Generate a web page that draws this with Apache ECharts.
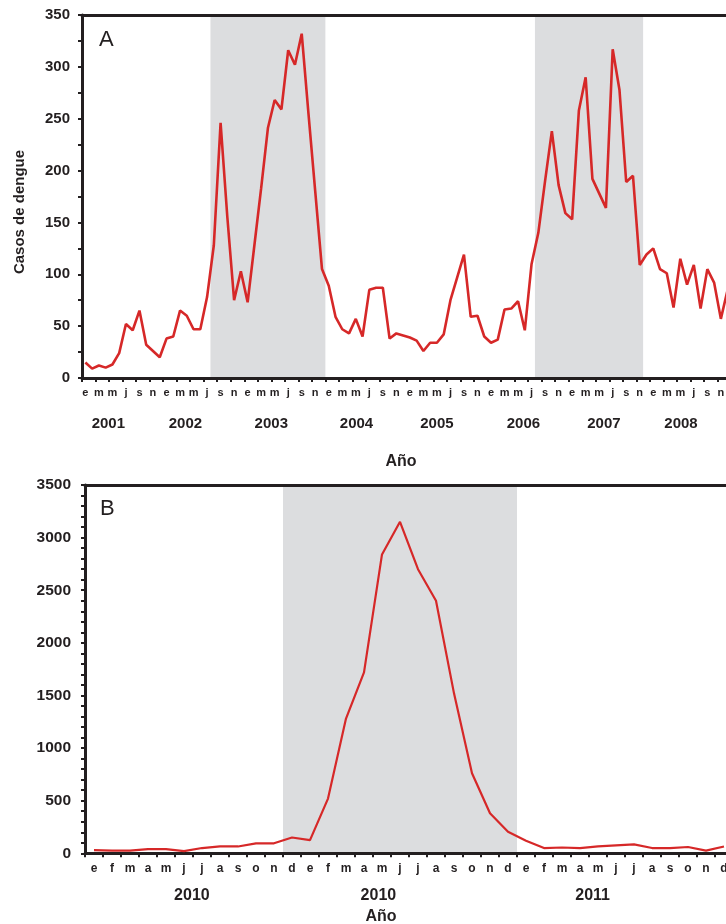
<!DOCTYPE html>
<html>
<head>
<meta charset="utf-8">
<script src="https://cdn.jsdelivr.net/npm/echarts@6/dist/echarts.min.js"></script>
<style>
html,body{margin:0;padding:0;background:#ffffff;}
#chart{width:726px;height:924px;}
</style>
</head>
<body>
<div id="chart"></div>
<script>
// ---------------- DATA ----------------
const monthInitials = ['e','f','m','a','m','j','j','a','s','o','n','d'];

// Panel A: monthly dengue cases, Jan 2001 - Dec 2008
const yearsA = ['2001','2002','2003','2004','2005','2006','2007','2008'];
const casesA = [
  15, 9, 12, 10, 13, 24, 52, 46, 65, 32, 26, 20,
  38, 40, 65, 60, 47, 47, 78, 128, 246, 155, 75, 103,
  73, 128, 183, 241, 268, 259, 316, 302, 332, 255, 180, 105,
  89, 59, 47, 43, 57, 40, 85, 87, 87, 38, 43, 41,
  39, 36, 26, 34, 34, 42, 75, 97, 119, 59, 60, 40,
  34, 37, 66, 67, 74, 46, 110, 140, 190, 238, 186, 159,
  153, 258, 290, 192, 178, 164, 317, 278, 189, 195, 109, 119,
  125, 105, 101, 68, 115, 90, 109, 67, 105, 92, 57, 85
];
// epidemic periods (inclusive month indices into casesA)
const epidemicA = [[19, 35], [67, 82]];
const yTicksA = {min: 0, max: 350, step: 50};

// Panel B: monthly dengue cases, three years (labels as printed)
const yearsB = ['2010','2010','2011'];
const casesB = [
  30, 25, 25, 40, 40, 20, 50, 65, 65, 95, 95, 150,
  125, 520, 1280, 1720, 2840, 3150, 2700, 2400, 1520, 760, 380, 205,
  120, 50, 55, 50, 65, 75, 85, 50, 50, 60, 25, 65
];
const epidemicB = [[11, 23]];
const yTicksB = {min: 0, max: 3500, step: 500};

// ---------------- BUILD ----------------
const catsA = casesA.map((_, i) => yearsA[Math.floor(i / 12)] + '-' + (i % 12 + 1));
const catsB = casesB.map((_, i) => 'b' + Math.floor(i / 12) + '-' + (i % 12 + 1));

// layout constants (label anchor positions, in month units)
const yearLabelPosA = [3.4, 14.8, 27.5, 40.1, 52.0, 64.8, 76.7, 88.1];
const yearLabelPosB = [5.44, 15.8, 27.7];

const INK = '#231f20';
const FONT = '"Liberation Sans", Arial, Helvetica, sans-serif';
const RED = '#d62828';
const GREY = '#dcdddf';

function monthAxis(gi, cats, labelInterval, tickInterval, fontSize, margin) {
  return {
    type: 'category', gridIndex: gi, data: cats, boundaryGap: true, position: 'bottom', z: 3,
    axisLine: {show: true, onZero: false, lineStyle: {color: INK, width: 3}},
    axisTick: {show: true, interval: tickInterval, length: 4, lineStyle: {color: INK, width: 2}},
    axisLabel: {
      show: true, interval: labelInterval, margin: margin,
      color: INK, fontFamily: FONT, fontWeight: 'bold', fontSize: fontSize,
      formatter: (v, idx) => monthInitials[idx % 12]
    },
    splitLine: {show: false}
  };
}
function yearAxis(gi, n, years, positions, fontSize, margin) {
  return {
    type: 'value', gridIndex: gi, min: -0.5, max: n - 0.5, position: 'bottom', z: 3,
    axisLine: {show: false, onZero: false}, axisTick: {show: false}, splitLine: {show: false},
    axisLabel: {
      show: true, customValues: positions, margin: margin,
      color: INK, fontFamily: FONT, fontWeight: 'bold', fontSize: fontSize,
      formatter: (v) => years[Math.floor((v + 0.5) / 12)] || ''
    }
  };
}
function topAxis(gi, cats) {
  return {
    type: 'category', gridIndex: gi, data: cats, position: 'top', z: 3,
    axisLine: {show: true, onZero: false, lineStyle: {color: INK, width: 3}},
    axisTick: {show: false}, axisLabel: {show: false}, splitLine: {show: false}
  };
}
function valueAxis(gi, t, fontSize, margin, minorSplit) {
  return {
    type: 'value', gridIndex: gi, min: t.min, max: t.max, interval: t.step, z: 3, position: 'left',
    axisLine: {show: true, onZero: false, lineStyle: {color: INK, width: 3}},
    axisTick: {show: true, length: 4, lineStyle: {color: INK, width: 2}},
    minorTick: {show: true, splitNumber: minorSplit, length: 4, lineStyle: {color: INK, width: 2}},
    splitLine: {show: false}, minorSplitLine: {show: false},
    axisLabel: {color: INK, fontFamily: FONT, fontWeight: 'bold', fontSize: fontSize, margin: margin,
                formatter: (v) => String(v)}
  };
}
function hiddenAxis(gi) {
  return {type: 'value', gridIndex: gi, min: 0, max: 1, show: false, position: 'right',
          axisLine: {onZero: false}};
}
// shaded epidemic periods: rectangles spanning whole month bands, via axis scales
function shadeSeries(xi, yi, periods) {
  return {
    type: 'custom', xAxisIndex: xi, yAxisIndex: yi, silent: true, z: 1,
    data: periods,
    encode: {x: [0, 1]},
    renderItem: (params, api) => {
      const band = api.size([1, 0])[0];
      const pTop = api.coord([api.value(0), 1]);
      const pBot = api.coord([api.value(1), 0]);
      const x0 = pTop[0] - band / 2;
      const x1 = pBot[0] + band / 2;
      return {type: 'rect', shape: {x: x0, y: pTop[1], width: x1 - x0, height: pBot[1] - pTop[1]},
              style: {fill: GREY}};
    }
  };
}

const option = {
  animation: false,
  backgroundColor: '#ffffff',
  grid: [
    {left: 82, top: 15, width: 649, height: 363, containLabel: false, outerBoundsMode: 'none'},
    {left: 85, top: 485, width: 648, height: 368.3, containLabel: false, outerBoundsMode: 'none'}
  ],
  xAxis: [
    monthAxis(0, catsA, 1, 1, 11, 9),
    yearAxis(0, casesA.length, yearsA, yearLabelPosA, 15, 38),
    topAxis(0, catsA),
    monthAxis(1, catsB, 0, 0, 12, 9),
    yearAxis(1, casesB.length, yearsB, yearLabelPosB, 16, 34),
    topAxis(1, catsB)
  ],
  yAxis: [
    valueAxis(0, yTicksA, 15, 12, 2),
    hiddenAxis(0),
    valueAxis(1, yTicksB, 15.5, 14, 5),
    hiddenAxis(1)
  ],
  series: [
    shadeSeries(0, 1, epidemicA),
    {type: 'line', xAxisIndex: 0, yAxisIndex: 0, data: casesA, showSymbol: false, symbol: 'none',
     lineStyle: {color: RED, width: 2.6}, z: 4},
    shadeSeries(3, 3, epidemicB),
    {type: 'line', xAxisIndex: 3, yAxisIndex: 2, data: casesB, showSymbol: false, symbol: 'none',
     lineStyle: {color: RED, width: 2.2}, z: 4}
  ],
  graphic: [
    {type: 'text', x: 99, y: 40, z: 10, style: {text: 'A', font: '22px ' + FONT, fill: INK, textVerticalAlign: 'middle', textAlign: 'left'}},
    {type: 'text', x: 100, y: 509, z: 10, style: {text: 'B', font: '22px ' + FONT, fill: INK, textVerticalAlign: 'middle', textAlign: 'left'}},
    {type: 'text', x: 20, y: 212, rotation: Math.PI / 2, z: 10, style: {text: 'Casos de dengue', font: 'bold 15px ' + FONT, fill: INK, textVerticalAlign: 'middle', textAlign: 'center'}},
    {type: 'text', x: 401, y: 462, z: 10, style: {text: 'Año', font: 'bold 16px ' + FONT, fill: INK, textVerticalAlign: 'middle', textAlign: 'center'}},
    {type: 'text', x: 381, y: 917, z: 10, style: {text: 'Año', font: 'bold 16px ' + FONT, fill: INK, textVerticalAlign: 'middle', textAlign: 'center'}}
  ]
};

const chart = echarts.init(document.getElementById('chart'), null, {renderer: 'canvas'});
chart.setOption(option);
</script>
</body>
</html>
